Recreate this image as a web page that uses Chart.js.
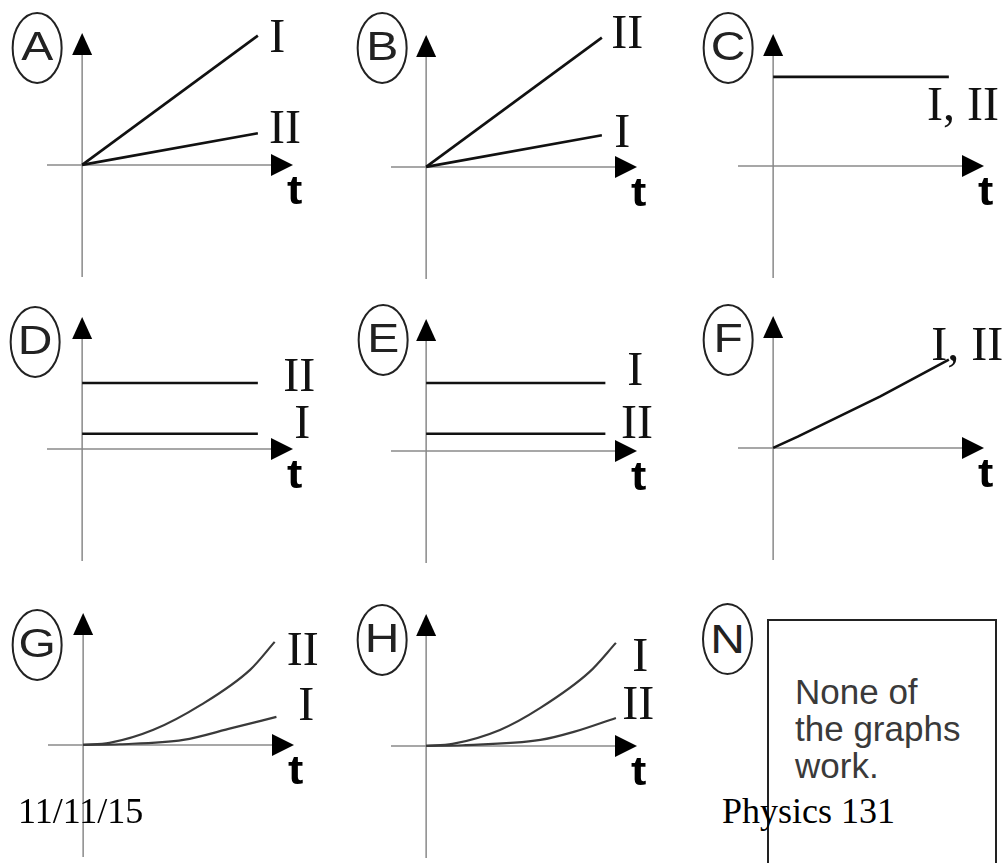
<!DOCTYPE html>
<html><head><meta charset="utf-8">
<script src="https://cdn.jsdelivr.net/npm/chart.js@4/dist/chart.umd.min.js"></script>
<style>
html,body{margin:0;padding:0;width:1003px;height:863px;overflow:hidden;background:#fff;}
canvas.panel{position:absolute;}
#nbox{position:absolute;left:767px;top:619px;width:230px;height:270px;border:2px solid #222;box-sizing:border-box;}
#ntext{position:absolute;left:795px;top:673px;font-family:'Liberation Sans',Arial,sans-serif;font-size:35px;line-height:37px;color:#3a3a3a;white-space:nowrap;}
#nletter{position:absolute;left:702px;top:603px;width:51px;height:72px;border:2px solid #222;border-radius:50%;box-sizing:border-box;}
#nletter span{position:absolute;left:0;right:0;top:0;bottom:0;display:flex;align-items:center;justify-content:center;font-family:'Liberation Sans',Arial,sans-serif;font-size:40px;color:#222;transform:scaleX(1.2);}
.foot{position:absolute;font-family:'Liberation Serif','Times New Roman',serif;font-size:36px;line-height:36px;color:#000;white-space:nowrap;}
</style></head>
<body>
<div id="nbox"></div>
<div id="ntext">None of<br>the graphs<br>work.</div>
<div id="nletter"><span>N</span></div>
<script>
// ---- categories / labels ----
const panelNames = ['A','B','C','D','E','F','G','H'];
const seriesNames = ['I','II','I, II'];
const axisLabel = 't';

// ---- series values (time t, quantity) ----
const A_t = [0, 10];   const A_I = [0, 9.8];   const A_II = [0, 2.4];
const B_t = [0, 10];   const B_I = [0, 2.4];   const B_II = [0, 9.8];
const C_t = [0, 10];   const C_I_II = [6.75, 6.75];
const D_t = [0, 10];   const D_I = [1.15, 1.15]; const D_II = [5.0, 5.0];
const E_t = [0, 10.2]; const E_I = [5.15, 5.15]; const E_II = [1.3, 1.3];
const F_t = [0, 1.4, 6.1, 10];   const F_I_II = [0, 0.85, 3.9, 6.7];
const G_tI = [0, 2.1, 5.7, 8.5, 11.0];        const G_I = [0, 0.05, 0.38, 1.29, 2.12];
const G_tII = [0, 1.5, 4.0, 6.7, 9.5, 10.9];  const G_II = [0, 0.15, 1.14, 3.03, 5.69, 7.81];
const H_tI = [0, 1.5, 4.2, 6.5, 9.3, 10.8];   const H_I = [0, 0.15, 1.21, 2.88, 5.61, 7.81];
const H_tII = [0, 2.1, 6.5, 8.4, 10.8];       const H_II = [0, 0.05, 0.45, 1.06, 2.12];

// ---- layout ----
const pts = (t, v) => t.map((tt, i) => ({x: tt, y: v[i]}));
const panels = [
  {name:'A', origin:[82,165], letterOff:[-45,-117], curve:false,
   series:[pts(A_t,A_I), pts(A_t,A_II)],
   labels:[{text:seriesNames[0],x:11.1,y:9.7},{text:seriesNames[1],x:11.55,y:2.8}]},
  {name:'B', origin:[426,167], letterOff:[-44,-119], curve:false,
   series:[pts(B_t,B_I), pts(B_t,B_II)],
   labels:[{text:seriesNames[1],x:11.44,y:10.1},{text:seriesNames[0],x:11.16,y:2.65}]},
  {name:'C', origin:[773,166], letterOff:[-45,-118], curve:false,
   series:[pts(C_t,C_I_II)],
   labels:[{text:seriesNames[2],x:10.8,y:4.6}]},
  {name:'D', origin:[82,449], letterOff:[-47,-107], curve:false,
   series:[pts(D_t,D_II), pts(D_t,D_I)],
   labels:[{text:seriesNames[1],x:12.35,y:5.53},{text:seriesNames[0],x:12.52,y:1.97}]},
  {name:'E', origin:[426,451], letterOff:[-43,-111], curve:false,
   series:[pts(E_t,E_I), pts(E_t,E_II)],
   labels:[{text:seriesNames[0],x:11.9,y:6.14},{text:seriesNames[1],x:12.0,y:2.12}]},
  {name:'F', origin:[773,448], letterOff:[-45,-108], curve:false,
   series:[pts(F_t,F_I_II)],
   labels:[{text:seriesNames[2],x:11.05,y:7.8}]},
  {name:'G', origin:[83,745], letterOff:[-46,-100], curve:true,
   series:[pts(G_tII,G_II), pts(G_tI,G_I)],
   labels:[{text:seriesNames[1],x:12.5,y:7.2},{text:seriesNames[0],x:12.7,y:3.03}]},
  {name:'H', origin:[426,746], letterOff:[-44,-106], curve:true,
   series:[pts(H_tI,H_I), pts(H_tII,H_II)],
   labels:[{text:seriesNames[0],x:12.18,y:6.75},{text:seriesNames[1],x:12.07,y:3.11}]}
];

const figurePlugin = {
  id: 'figure',
  beforeDatasetsDraw(chart) {
    const {ctx, chartArea: a, scales: {x, y}} = chart;
    const x0 = x.getPixelForValue(0), y0 = y.getPixelForValue(0);
    ctx.save();
    ctx.strokeStyle = '#8a8a8a';
    ctx.lineWidth = 1.5;
    ctx.beginPath();
    ctx.moveTo(x0, a.top + 10); ctx.lineTo(x0, a.bottom);
    ctx.moveTo(a.left, y0); ctx.lineTo(a.right - 10, y0);
    ctx.stroke();
    ctx.fillStyle = '#000';
    ctx.beginPath();
    ctx.moveTo(x0, a.top); ctx.lineTo(x0 - 10, a.top + 22); ctx.lineTo(x0 + 10, a.top + 22);
    ctx.closePath(); ctx.fill();
    ctx.beginPath();
    ctx.moveTo(a.right, y0); ctx.lineTo(a.right - 22, y0 - 11); ctx.lineTo(a.right - 22, y0 + 11);
    ctx.closePath(); ctx.fill();
    ctx.restore();
  },
  afterDatasetsDraw(chart, args, opts) {
    const {ctx, scales: {x, y}} = chart;
    const x0 = x.getPixelForValue(0), y0 = y.getPixelForValue(0);
    ctx.save();
    // series labels
    ctx.fillStyle = '#111';
    ctx.font = '48px "Liberation Serif", "Times New Roman", serif';
    ctx.textAlign = 'center';
    ctx.textBaseline = 'middle';
    opts.labels.forEach(l => {
      ctx.fillText(l.text, x.getPixelForValue(l.x), y.getPixelForValue(l.y) + 2);
    });
    // axis label t
    ctx.font = 'bold 40px "Liberation Sans", Arial, sans-serif';
    ctx.fillStyle = '#000';
    const tx = x.getPixelForValue(12.1), ty = y.getPixelForValue(-2.15);
    ctx.save(); ctx.translate(tx, ty); ctx.scale(1.15, 1);
    ctx.fillText(axisLabel, 0, 0);
    ctx.restore();
    // circled letter
    const cx = x0 + opts.letterOff[0], cy = y0 + opts.letterOff[1];
    ctx.strokeStyle = '#222';
    ctx.lineWidth = 2;
    ctx.beginPath();
    ctx.ellipse(cx, cy, 24.5, 35, 0, 0, Math.PI * 2);
    ctx.stroke();
    ctx.fillStyle = '#222';
    ctx.font = '40px "Liberation Sans", Arial, sans-serif';
    ctx.save(); ctx.translate(cx, cy + 1); ctx.scale(1.2, 1);
    ctx.fillText(opts.name, 0, 0);
    ctx.restore();
    ctx.restore();
  }
};

panels.forEach(p => {
  const cv = document.createElement('canvas');
  cv.className = 'panel';
  cv.width = 340; cv.height = 290;
  cv.style.left = (p.origin[0] - 82) + 'px';
  cv.style.top = (p.origin[1] - 165) + 'px';
  cv.style.width = '340px'; cv.style.height = '290px';
  document.body.appendChild(cv);
  new Chart(cv, {
    type: 'line',
    data: {
      datasets: p.series.map(s => ({
        data: s,
        borderColor: p.curve ? '#3a3a3a' : '#111',
        borderWidth: p.curve ? 2.2 : 2.6,
        pointRadius: 0,
        fill: false,
        cubicInterpolationMode: p.curve ? 'monotone' : 'default',
        tension: 0
      }))
    },
    options: {
      responsive: false,
      animation: false,
      devicePixelRatio: 1,
      layout: {padding: {left: 47, right: 47, top: 33, bottom: 13}},
      scales: {
        x: {type: 'linear', min: -2, max: 12, display: false},
        y: {type: 'linear', min: -8.5, max: 10, display: false}
      },
      plugins: {
        legend: {display: false},
        tooltip: {enabled: false},
        figure: {labels: p.labels, name: p.name, letterOff: p.letterOff}
      }
    },
    plugins: [figurePlugin]
  });
});

const f1 = document.createElement('div');
f1.className = 'foot'; f1.style.left = '18px'; f1.style.top = '793px'; f1.textContent = '11/11/15';
document.body.appendChild(f1);
const f2 = document.createElement('div');
f2.className = 'foot'; f2.style.left = '722px'; f2.style.top = '793px'; f2.textContent = 'Physics 131';
document.body.appendChild(f2);
</script>
</body></html>
